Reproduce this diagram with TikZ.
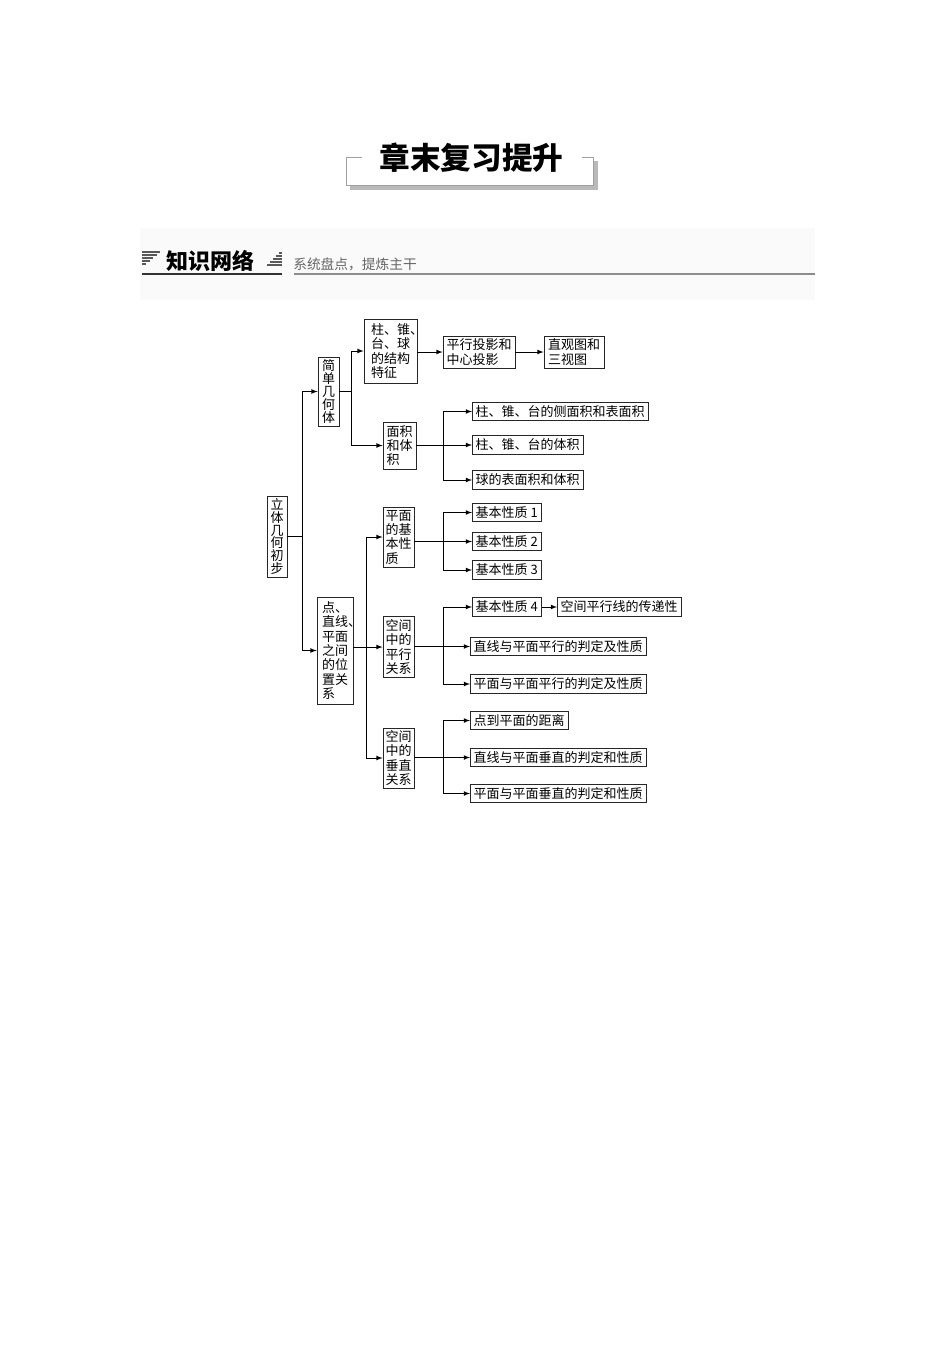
\documentclass[tikz,border=0pt]{standalone}
\usepackage{fontspec}
\setmainfont{Noto Sans CJK SC}
\usetikzlibrary{positioning, calc}
\setlength{\lineskiplimit}{-10pt}

\begin{document}
\begin{tikzpicture}[x=0.75pt, y=-0.75pt,
    % boxes of the knowledge network
    cell/.style={
        draw=black!85,
        line width=0.6pt,
        inner sep=0pt,
        align=left,
        font=\fontsize{9.75}{10.75}\selectfont
    },
    col/.style={cell, font=\fontsize{9.75}{9.6}\selectfont},
    leaf/.style={
        draw=black!85,
        line width=0.6pt,
        anchor=west,
        inner xsep=2.5pt,
        inner ysep=0pt,
        minimum height=14pt,
        font=\fontsize{9.75}{10.75}\selectfont
    },
    bus/.style={line width=0.6pt},
    link/.style={line width=0.6pt, ->, >=latex}
]
\useasboundingbox (0,0) rectangle (950,1345);

% chapter title
\fill[gray!55] (350,161) rectangle (598,190);
\fill[white] (346,157) rectangle (593,185);
\draw[gray!75, line width=0.7pt] (362,157) -- (346,157) -- (346,185) -- (593,185) -- (593,157) -- (582,157);
\node[font=\fontsize{23}{23}\selectfont\bfseries] (title) at (471.5,157.5) {章末复习提升};

% section header
\fill[gray!4] (140,228) rectangle (815,300);
\foreach \k in {0,...,4}
    \draw[black!65, line width=0.9pt] (142,{252+3*\k}) -- ({160-3.5*\k},{252+3*\k});
\node[font=\fontsize{16.5}{16.5}\selectfont\bfseries, anchor=west, inner sep=0pt] (sec) at (166,261) {知识网络};
\foreach \k in {0,...,4}
    \draw[black!65, line width=0.9pt] ({282-3*(\k+1)},{253+3*\k}) -- (282,{253+3*\k});
\node[font=\fontsize{10.3}{10.3}\selectfont, text=black!60, anchor=west, inner sep=0pt] (motto) at (293,264) {系统盘点，提炼主干};
\draw[black!80, line width=1.5pt] (142,274) -- (282,274);
\draw[black!45, line width=1.2pt] (294,274) -- (815,274);

% tree nodes
\node[col, minimum width=15pt, minimum height=60.75pt] (root) at (277,536.5) {立\\体\\几\\何\\初\\步};
\node[col, minimum width=15.75pt, minimum height=51.75pt] (solid) at (328.5,391.5) {简\\单\\几\\何\\体};
\node[cell, minimum width=27pt, minimum height=80.25pt] (pos) at (335,650.5) {点、\\直线\rlap{、}\\平面\\之间\\的位\\置关\\系};

\node[cell, minimum width=39.75pt, minimum height=48pt] (struct) at (390.5,351) {柱、锥\rlap{、}\\台、球\\的结构\\特征};
\node[cell, minimum width=24.75pt, minimum height=35.25pt] (area) at (399.5,445.5) {面积\\和体\\积};
\node[cell, minimum width=54pt, minimum height=24pt] (proj) at (479,352) {平行投影和\\中心投影};
\node[cell, minimum width=45pt, minimum height=24pt] (view) at (574,352) {直观图和\\三视图};

\node[leaf] (ar1) at (472,411.5) {柱、锥、台的侧面积和表面积};
\node[leaf] (ar2) at (472,445) {柱、锥、台的体积};
\node[leaf] (ar3) at (472,480) {球的表面积和体积};

\node[cell, minimum width=23.25pt, minimum height=45pt] (plane) at (398.5,537) {平面\\的基\\本性\\质};
\node[cell, minimum width=23.25pt, minimum height=45.75pt] (para) at (398.5,647) {空间\\中的\\平行\\关系};
\node[cell, minimum width=23.25pt, minimum height=45pt] (perp) at (398.5,758) {空间\\中的\\垂直\\关系};

\node[leaf] (ax1) at (472,512.5) {基本性质 1};
\node[leaf] (ax2) at (472,541.5) {基本性质 2};
\node[leaf] (ax3) at (472,570) {基本性质 3};
\node[leaf] (ax4) at (472,607) {基本性质 4};
\node[leaf] (trans) at (557,607) {空间平行线的传递性};
\node[leaf] (lp) at (470,646.5) {直线与平面平行的判定及性质};
\node[leaf] (pp) at (470,684) {平面与平面平行的判定及性质};
\node[leaf] (dist) at (470,720.5) {点到平面的距离};
\node[leaf] (lv) at (470,757.5) {直线与平面垂直的判定和性质};
\node[leaf] (pv) at (470,793.5) {平面与平面垂直的判定和性质};

% x positions of the vertical buses
\coordinate (t0) at (302,0);
\coordinate (t1) at (351,0);
\coordinate (t2) at (443,0);
\coordinate (t3) at (366,0);

% root to its two branches
\draw[bus] (root.east) -- (t0 |- root.east);
\draw[bus] (t0 |- solid.west) -- (t0 |- pos.west);
\foreach \n in {solid,pos}
    \draw[link] (t0 |- \n.west) -- (\n.west);

% simple solids
\draw[bus] (solid.east) -- (t1 |- solid.east);
\draw[bus] (t1 |- struct.west) -- (t1 |- area.west);
\foreach \n in {struct,area}
    \draw[link] (t1 |- \n.west) -- (\n.west);
\draw[link] (struct.east |- proj.west) -- (proj.west);
\draw[link] (proj.east) -- (view.west);
\draw[bus] (area.east |- ar2.west) -- (t2 |- ar2.west);
\draw[bus] (t2 |- ar1.west) -- (t2 |- ar3.west);
\foreach \n in {ar1,ar2,ar3}
    \draw[link] (t2 |- \n.west) -- (\n.west);

% points, lines and planes
\draw[bus] (pos.east |- para.west) -- (t3 |- para.west);
\draw[bus] (t3 |- plane.west) -- (t3 |- perp.west);
\foreach \n in {plane,para,perp}
    \draw[link] (t3 |- \n.west) -- (\n.west);

\draw[bus] (plane.east |- ax2.west) -- (t2 |- ax2.west);
\draw[bus] (t2 |- ax1.west) -- (t2 |- ax3.west);
\foreach \n in {ax1,ax2,ax3}
    \draw[link] (t2 |- \n.west) -- (\n.west);

\draw[bus] (para.east |- lp.west) -- (t2 |- lp.west);
\draw[bus] (t2 |- ax4.west) -- (t2 |- pp.west);
\foreach \n in {ax4,lp,pp}
    \draw[link] (t2 |- \n.west) -- (\n.west);
\draw[link] (ax4.east) -- (trans.west);

\draw[bus] (perp.east |- lv.west) -- (t2 |- lv.west);
\draw[bus] (t2 |- dist.west) -- (t2 |- pv.west);
\foreach \n in {dist,lv,pv}
    \draw[link] (t2 |- \n.west) -- (\n.west);

\end{tikzpicture}
\end{document}
